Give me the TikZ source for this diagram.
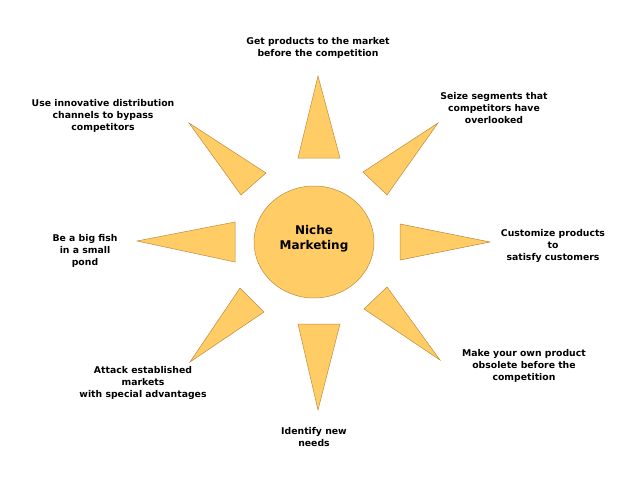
\documentclass[tikz,border=0pt]{standalone}
\usepackage{fontspec}
\setmainfont{DejaVu Sans}
\usetikzlibrary{shapes.geometric}
\begin{document}
\begin{tikzpicture}[x=1pt,y=-1pt,
  ray/.style={fill={rgb,255:red,255;green,204;blue,102},draw={rgb,255:red,190;green,140;blue,60},line width=0.5pt},
  lbl/.style={font=\bfseries\fontsize{9.3}{12}\selectfont,align=center,inner sep=0pt}]
\useasboundingbox (0,0) rectangle (638,479);
\node[ray,ellipse,minimum width=120,minimum height=112,inner sep=0pt] (c) at (314,242) {};
\node[font=\bfseries\fontsize{12}{15}\selectfont,align=center] (ct) at (314,239) {Niche\\Marketing};
\filldraw[ray] (318,76) -- (298,158) -- (340,158) -- cycle;
\filldraw[ray] (438,123) -- (363,172) -- (387,195) -- cycle;
\filldraw[ray] (490,242) -- (400,224) -- (400,260) -- cycle;
\filldraw[ray] (440,360) -- (387,287) -- (364,309) -- cycle;
\filldraw[ray] (318,410) -- (298,324) -- (340,324) -- cycle;
\filldraw[ray] (190,362) -- (240,288) -- (264,312) -- cycle;
\filldraw[ray] (137,241) -- (235,222) -- (235,262) -- cycle;
\filldraw[ray] (189,123) -- (266,173) -- (241,195) -- cycle;
\node[lbl] (t1) at (318,48) {Get products to the market\\before the competition};
\node[lbl] (t2) at (494,108) {Seize segments that\\competitors have\\overlooked};
\node[lbl] (t3) at (553,246) {Customize products\\to\\satisfy customers};
\node[lbl] (t4) at (524,366) {Make your own product\\obsolete before the\\competition};
\node[lbl] (t5) at (314,437) {Identify new\\needs};
\node[lbl] (t6) at (143,383) {Attack established\\markets\\with special advantages};
\node[lbl] (t7) at (85,251) {Be a big fish\\in a small\\pond};
\node[lbl] (t8) at (103,116) {Use innovative distribution\\channels to bypass\\competitors};
\end{tikzpicture}
\end{document}
